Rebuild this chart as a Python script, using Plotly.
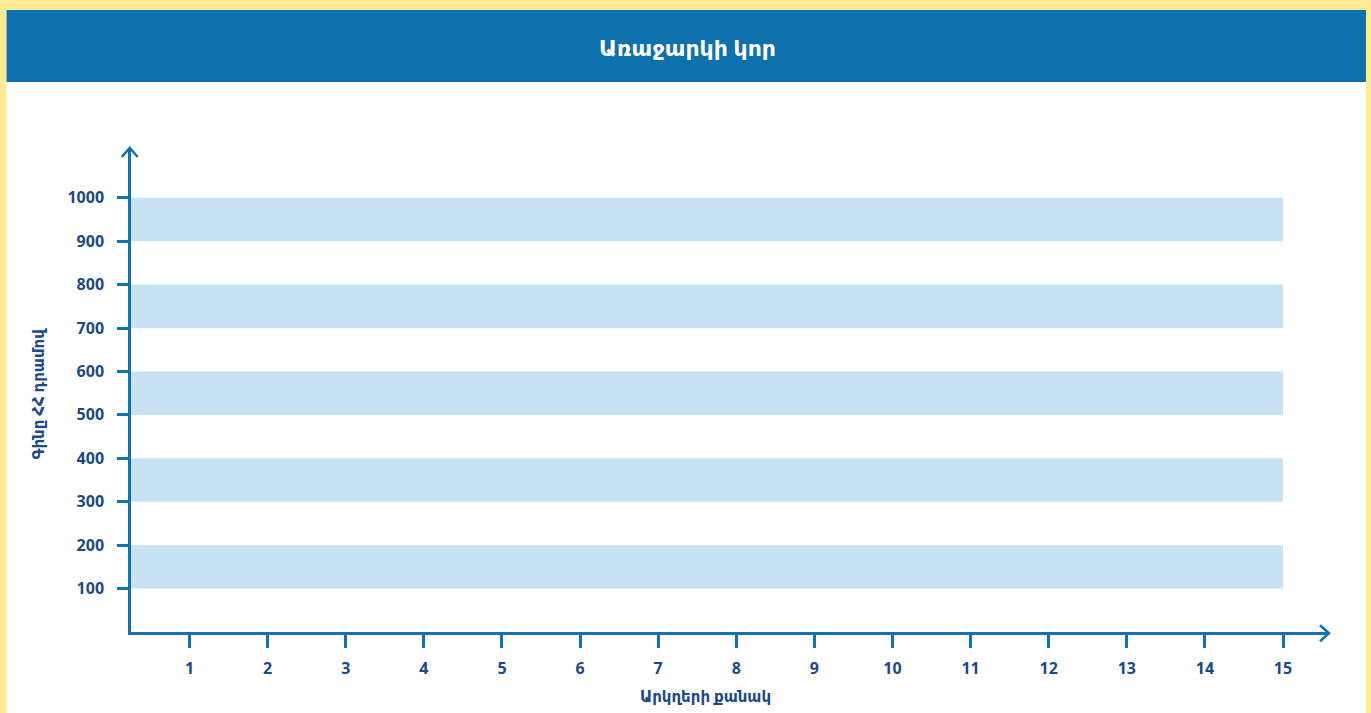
import plotly.graph_objects as go

# ---- data ----
title_text = "Առաջարկի կոր"
x_title = "Արկղերի քանակ"
y_title = "Գինը ՀՀ դրամով"
x_ticks = list(range(1, 16))
y_ticks = [100, 200, 300, 400, 500, 600, 700, 800, 900, 1000]
band_low = [100, 300, 500, 700, 900]
band_high = [200, 400, 600, 800, 1000]
band_x_end = 15

# ---- style ----
W, H = 1371, 713
S_LEFT, S_RIGHT, S_TOP, S_BOTTOM = 130.5, 1328, 150, 632
L, R, T, B = S_LEFT, W - S_RIGHT, S_TOP, H - S_BOTTOM
PW, PH = W - L - R, H - T - B
x_range = [0.25, 15.576]
y_range = [0, 1110]
YELLOW = "#FFEB94"
HEADER = "#0E71AE"
AXIS = "#1272B0"
BAND = "#C7E2F4"
TXT = "#1B4A85"
FONT = "Open Sans, DejaVu Sans, sans-serif"


def px(xs):
    return (xs - S_LEFT) / PW


def py(ys):
    return (S_BOTTOM - ys) / PH


fig = go.Figure()
fig.add_trace(go.Scatter(x=x_ticks, y=[None] * len(x_ticks), mode="markers",
                         showlegend=False, hoverinfo="skip"))

shapes = []
shapes.append(dict(type="rect", xref="paper", yref="paper", x0=px(6), x1=px(1366),
                   y0=py(730), y1=py(10), fillcolor="white", line_width=0, layer="below"))
shapes.append(dict(type="rect", xref="paper", yref="paper", x0=px(6), x1=px(1366),
                   y0=py(82), y1=py(10), fillcolor=HEADER, line_width=0, layer="below"))
for lo, hi in zip(band_low, band_high):
    shapes.append(dict(type="rect", xref="x", yref="y", x0=x_range[0], x1=band_x_end,
                       y0=lo, y1=hi, fillcolor=BAND, line_width=0, layer="below"))
ox, oy = S_LEFT - 1.25, S_BOTTOM + 1.25
tipx, tipy = S_RIGHT + 1, S_TOP - 2
shapes.append(dict(type="path", xref="paper", yref="paper",
                   path=f"M {px(ox-8)} {py(tipy+9)} L {px(ox)} {py(tipy)} L {px(ox+8)} {py(tipy+9)}",
                   line=dict(color=AXIS, width=2.5), layer="above"))
shapes.append(dict(type="path", xref="paper", yref="paper",
                   path=f"M {px(tipx-9)} {py(oy-8)} L {px(tipx)} {py(oy)} L {px(tipx-9)} {py(oy+8)}",
                   line=dict(color=AXIS, width=2.5), layer="above"))

annotations = [
    dict(text=title_text, xref="paper", yref="paper", x=px(687), y=py(47),
         showarrow=False, font=dict(family=FONT, size=22, color="white", weight=600),
         xanchor="center", yanchor="middle"),
    dict(text=x_title, xref="paper", yref="paper", x=px(705), y=py(696),
         showarrow=False, font=dict(family=FONT, size=15, color=TXT, weight=600),
         xanchor="center", yanchor="middle"),
    dict(text=y_title, xref="paper", yref="paper", x=px(37), y=py(394),
         showarrow=False, textangle=-90, font=dict(family=FONT, size=15, color=TXT, weight=600),
         xanchor="center", yanchor="middle"),
]

fig.update_layout(
    width=W, height=H, margin=dict(l=L, r=R, t=T, b=B, pad=0),
    paper_bgcolor=YELLOW, plot_bgcolor="rgba(0,0,0,0)",
    shapes=shapes, annotations=annotations, showlegend=False,
    xaxis=dict(range=x_range, tickvals=x_ticks, ticktext=[str(v) for v in x_ticks],
               showgrid=False, zeroline=False, showline=True, linecolor=AXIS, linewidth=2.5,
               ticks="outside", ticklen=13, tickwidth=2.5, tickcolor=AXIS,
               tickfont=dict(family=FONT, size=16, color=TXT, weight="bold"), ticklabelstandoff=7,
               fixedrange=True),
    yaxis=dict(range=y_range, tickvals=y_ticks, ticktext=[str(v) for v in y_ticks],
               showgrid=False, zeroline=False, showline=True, linecolor=AXIS, linewidth=2.5,
               ticks="outside", ticklen=11, tickwidth=2.5, tickcolor=AXIS,
               tickfont=dict(family=FONT, size=16, color=TXT, weight="bold"), ticklabelstandoff=10,
               fixedrange=True),
)

fig.write_html(
    "out.html",
    config={"displayModeBar": False},
    post_script="document.body.style.margin='0';document.body.style.overflow='hidden';",
)
